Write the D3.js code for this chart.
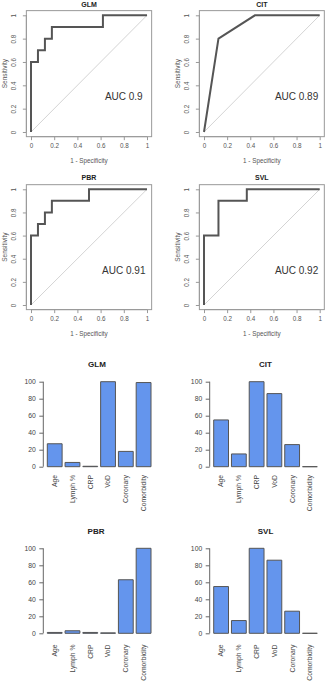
<!DOCTYPE html>
<html><head><meta charset="utf-8">
<script src="https://cdn.jsdelivr.net/npm/d3@7"></script>
<style>
html,body{margin:0;padding:0;background:#fff;}
svg{display:block;font-family:"Liberation Sans",Arial,sans-serif;}
</style></head>
<body>
<svg id="chart" width="326" height="685"></svg>
<script>
// ---- ROC data (1 - specificity, sensitivity) ----
const rocGLM_fpr = [0, 0, 0.06, 0.06, 0.12, 0.12, 0.18, 0.18, 0.62, 0.62, 1];
const rocGLM_tpr = [0, 0.6, 0.6, 0.7, 0.7, 0.8, 0.8, 0.9, 0.9, 1, 1];
const rocCIT_fpr = [0, 0.125, 0.44, 1];
const rocCIT_tpr = [0, 0.8, 1, 1];
const rocPBR_fpr = [0, 0, 0.06, 0.06, 0.12, 0.12, 0.18, 0.18, 0.5, 0.5, 1];
const rocPBR_tpr = [0, 0.6, 0.6, 0.7, 0.7, 0.8, 0.8, 0.9, 0.9, 1, 1];
const rocSVL_fpr = [0, 0, 0.125, 0.125, 0.37, 0.37, 1];
const rocSVL_tpr = [0, 0.6, 0.6, 0.9, 0.9, 1, 1];
const aucLabels = ["AUC 0.9", "AUC 0.89", "AUC 0.91", "AUC 0.92"];
const modelNames = ["GLM", "CIT", "PBR", "SVL"];
const rocTicks = [0, 0.2, 0.4, 0.6, 0.8, 1];
const rocTickLabels = ["0", "0.2", "0.4", "0.6", "0.8", "1"];

// ---- Variable importance data ----
const variables = ["Age", "Lymph %", "CRP", "VoD", "Coronary", "Comorbidity"];
const impGLM = [27, 5, 0.5, 100, 18, 99];
const impCIT = [55, 15, 100, 86, 26, 0];
const impPBR = [1, 3, 1, 0.5, 63, 100];
const impSVL = [55, 15, 100, 86, 26, 0];
const impTicks = [0, 20, 40, 60, 80, 100];

const svg = d3.select("#chart");
const tickCol = "#555";

function rocPanel(name, fpr, tpr, auc, xr, yr, titleY) {
  const x = d3.scaleLinear().domain([0, 1]).range(xr);
  const y = d3.scaleLinear().domain([0, 1]).range(yr);
  const ext = 0.04;
  const bx0 = x(-ext), bx1 = x(1 + ext), by0 = y(1 + ext), by1 = y(-ext);
  const g = svg.append("g");
  // diagonal
  g.append("line").attr("x1", x(0)).attr("y1", y(0)).attr("x2", x(1)).attr("y2", y(1))
    .attr("stroke", "#d4d4d4").attr("stroke-width", 1);
  // curve
  const pts = fpr.map((v, i) => [v, tpr[i]]);
  g.append("path").attr("d", d3.line().x(d => x(d[0])).y(d => y(d[1]))(pts))
    .attr("fill", "none").attr("stroke", "#555").attr("stroke-width", 2);
  // box
  g.append("rect").attr("x", bx0).attr("y", by0).attr("width", bx1 - bx0).attr("height", by1 - by0)
    .attr("fill", "none").attr("stroke", "#999").attr("stroke-width", 1);
  // x axis
  const xa = g.append("g").attr("transform", `translate(0,${by1})`)
    .call(d3.axisBottom(x).tickValues(rocTicks).tickFormat((d, i) => rocTickLabels[i]).tickSize(3.5).tickPadding(3));
  xa.select(".domain").attr("stroke", "#999").attr("d", `M${x(0)},0H${x(1)}`);
  xa.selectAll(".tick line").attr("stroke", "#999");
  xa.selectAll("text").attr("fill", tickCol).attr("font-size", 6.3).attr("font-family", "Liberation Sans, Arial, sans-serif");
  // y axis
  const ya = g.append("g").attr("transform", `translate(${bx0},0)`)
    .call(d3.axisLeft(y).tickValues(rocTicks).tickFormat((d, i) => rocTickLabels[i]).tickSize(3.5).tickPadding(0));
  ya.select(".domain").attr("stroke", "#999").attr("d", `M0,${y(0)}V${y(1)}`);
  ya.selectAll(".tick line").attr("stroke", "#999");
  ya.selectAll("text").attr("fill", tickCol).attr("font-size", 6.3).attr("font-family", "Liberation Sans, Arial, sans-serif")
    .attr("text-anchor", "middle").attr("x", null).attr("dy", null)
    .attr("transform", `translate(${-bx0 + (bx0 - 12.7)},0) rotate(-90)`);
  ya.selectAll(".tick text").attr("transform", `translate(-12.7,0) rotate(-90)`).attr("dy", "0.35em");
  // labels
  g.append("text").attr("x", (bx0 + bx1) / 2).attr("y", by1 + 26.5).attr("text-anchor", "middle")
    .attr("font-size", 6.3).attr("fill", tickCol).text("1 - Specificity");
  g.append("text").attr("transform", `translate(${bx0 - 22},${(by0 + by1) / 2}) rotate(-90)`)
    .attr("text-anchor", "middle").attr("dy", "0.35em").attr("font-size", 6.5).attr("fill", tickCol).text("Sensitivity");
  g.append("text").attr("x", (bx0 + bx1) / 2).attr("y", titleY).attr("text-anchor", "middle")
    .attr("font-size", 7).attr("font-weight", "bold").attr("fill", "#222").text(name);
  g.append("text").attr("x", x(0.8)).attr("y", y(0.3)).attr("dy", "0.35em").attr("text-anchor", "middle")
    .attr("font-size", 10).attr("fill", "#333").text(auc);
}

rocPanel(modelNames[0], rocGLM_fpr, rocGLM_tpr, aucLabels[0], [31, 147], [132, 15.3], 7);
rocPanel(modelNames[1], rocCIT_fpr, rocCIT_tpr, aucLabels[1], [204, 319.7], [132, 15.3], 7);
rocPanel(modelNames[2], rocPBR_fpr, rocPBR_tpr, aucLabels[2], [31, 147], [305, 189.3], 180);
rocPanel(modelNames[3], rocSVL_fpr, rocSVL_tpr, aucLabels[3], [204, 319.7], [305, 189.3], 180);

function barPanel(name, vals, axisX, barRange, yr, titleX, titleY, labelTop) {
  const x = d3.scaleBand().domain(variables).range(barRange).paddingInner(1 / 6).paddingOuter(0);
  const y = d3.scaleLinear().domain([0, 100]).range(yr);
  const g = svg.append("g");
  const ya = g.append("g").attr("transform", `translate(${axisX},0)`)
    .call(d3.axisLeft(y).tickValues(impTicks).tickSize(4).tickPadding(3.5));
  ya.select(".domain").attr("stroke", "#666").attr("d", `M0,${y(0)}V${y(100)}`);
  ya.selectAll(".tick line").attr("stroke", "#666");
  ya.selectAll("text").attr("fill", "#444").attr("font-size", 6.8).attr("font-family", "Liberation Sans, Arial, sans-serif");
  g.selectAll("path.bar").data(vals).enter().append("path").attr("class", "bar")
    .attr("d", (d, i) => {
      const x0 = x(variables[i]), x1 = x0 + x.bandwidth();
      return `M${x0},${y(0)}V${y(d)}H${x1}V${y(0)}Z`;
    })
    .attr("fill", "#6495ED").attr("stroke", "#555").attr("stroke-width", 1);
  g.selectAll("text.cat").data(variables).enter().append("text").attr("class", "cat")
    .attr("transform", d => `translate(${x(d) + x.bandwidth() / 2},${labelTop}) rotate(-90)`)
    .attr("text-anchor", "end").attr("dy", "0.35em").attr("font-size", 6.8).attr("fill", "#444").text(d => d);
  g.append("text").attr("x", titleX).attr("y", titleY).attr("text-anchor", "middle")
    .attr("font-size", 8).attr("font-weight", "bold").attr("fill", "#222").text(name);
}

barPanel(modelNames[0], impGLM, 43.3, [47.3, 151], [466.7, 381.7], 97, 366.5, 475);
barPanel(modelNames[1], impCIT, 209.7, [213.7, 317.3], [466.7, 381.7], 265.5, 366.5, 475);
barPanel(modelNames[2], impPBR, 43.3, [47.3, 151], [633.3, 548.3], 96, 534, 644.5);
barPanel(modelNames[3], impSVL, 209.7, [213.7, 317.3], [633.3, 548.3], 265.5, 534, 644.5);
</script>
</body></html>
